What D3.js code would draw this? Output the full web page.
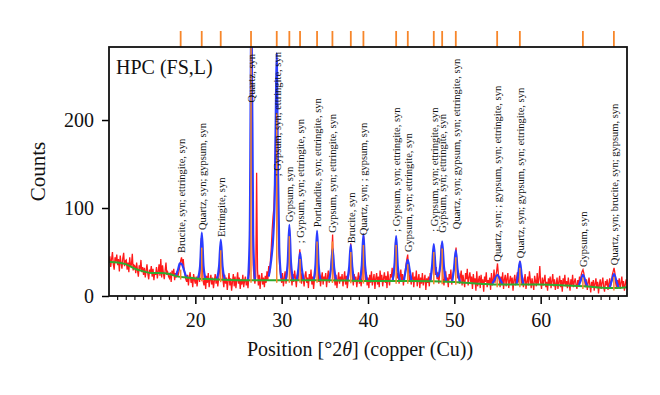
<!DOCTYPE html>
<html>
<head>
<meta charset="utf-8">
<script src="https://cdn.jsdelivr.net/npm/d3@7"></script>
<style>
  body { margin: 0; background: #fff; }
  text { font-family: "Liberation Serif", "DejaVu Serif", serif; fill: #111; }
</style>
</head>
<body>
<div id="chart"></div>
<script>
// observed pattern, start 10 deg, step 0.1 deg (one row per degree)
var obsStart = 10, obsStep = 0.1;
var observed = [
    38, 45, 33, 42, 50, 36, 30, 44, 39, 47,
    35, 42, 28, 46, 37, 31, 43, 49, 34, 40,
    41, 30, 38, 27, 44, 33, 36, 48, 29, 35,
    34, 26, 38, 29, 22, 35, 30, 41, 27, 33,
    24, 32, 21, 29, 36, 25, 19, 30, 27, 34,
    22, 31, 18, 27, 24, 33, 20, 28, 36, 23,
    42, 21, 35, 26, 19, 29, 38, 24, 27, 22,
    20, 27, 16, 29, 23, 31, 18, 26, 21, 28,
    23, 28, 34, 40, 44, 36, 42, 30, 24, 19,
    16, 24, 12, 22, 27, 15, 20, 10, 25, 18,
    14, 22, 11, 19, 25, 16, 40, 66, 38, 17,
    12, 20, 8, 23, 15, 26, 10, 18, 24, 13,
    21, 9, 17, 25, 14, 22, 11, 19, 30, 48,
    55, 35, 18, 10, 24, 14, 21, 7, 17, 26,
    12, 20, 6, 16, 25, 11, 22, 9, 18, 27,
    14, 21, 8, 19, 13, 24, 10, 17, 22, 12,
    18, 9, 22, 30, 150, 330, 140, 35, 20, 14,
    22, 140, 30, 12, 24, 8, 19, 26, 13, 21,
    10, 23, 15, 28, 18, 34, 26, 40, 55, 75,
    90, 100, 130, 180, 208, 150, 80, 45, 30, 22,
    15, 26, 11, 20, 28, 14, 22, 35, 50, 75,
    45, 22, 12, 25, 16, 29, 20, 10, 24, 18,
    38, 53, 30, 14, 26, 19, 11, 23, 28, 15,
    21, 9, 25, 17, 30, 13, 22, 8, 19, 26,
    45, 70, 40, 16, 24, 11, 20, 27, 13, 22,
    18, 26, 10, 21, 29, 15, 23, 32, 45, 70,
    35, 20, 12, 24, 9, 19, 27, 14, 22, 17,
    25, 11, 20, 28, 13, 23, 9, 18, 26, 34,
    60, 42, 21, 12, 25, 16, 22, 10, 19, 27,
    14, 23, 11, 20, 45, 68, 35, 18, 27, 12,
    21, 9, 24, 15, 28, 12, 19, 25, 8, 20,
    26, 13, 22, 10, 29, 17, 24, 11, 20, 27,
    15, 23, 9, 28, 18, 12, 25, 21, 32, 19,
    24, 40, 62, 38, 20, 26, 14, 22, 30, 17,
    25, 12, 21, 28, 35, 42, 47, 30, 18, 24,
    13, 20, 27, 10, 22, 16, 29, 11, 19, 25,
    9, 21, 14, 26, 12, 18, 24, 7, 20, 15,
    22, 11, 26, 18, 30, 35, 52, 40, 24, 33,
    19, 27, 14, 25, 38, 58, 42, 20, 12, 23,
    28, 16, 21, 10, 25, 19, 30, 13, 22, 27,
    32, 45, 55, 36, 20, 26, 14, 22, 29, 12,
    24, 17, 10, 26, 19, 31, 12, 21, 27, 16,
    22, 8, 25, 14, 20, 6, 28, 11, 18, 23,
    9, 24, 13, 19, 5, 22, 16, 27, 10, 18,
    14, 21, 7, 26, 12, 18, 30, 15, 23, 28,
    37, 25, 18, 10, 22, 14, 27, 8, 19, 24,
    11, 20, 26, 9, 17, 23, 13, 21, 6, 18,
    24, 12, 19, 27, 15, 32, 40, 26, 14, 21,
    10, 18, 25, 8, 16, 22, 12, 28, 19, 9,
    20, 14, 7, 23, 17, 11, 26, 13, 19, 34,
    15, 8, 21, 12, 18, 24, 10, 16, 6, 20,
    13, 22, 9, 17, 25, 11, 19, 7, 14, 21,
    8, 16, 23, 10, 18, 5, 20, 13, 24, 11,
    17, 9, 21, 14, 6, 19, 12, 24, 10, 16,
    20, 13, 8, 18, 11, 22, 15, 24, 28, 30,
    26, 17, 10, 19, 7, 15, 21, 12, 4, 16,
    11, 18, 6, 14, 20, 9, 16, 3, 13, 19,
    8, 15, 21, 10, 5, 17, 12, 19, 7, 14,
    20, 11, 16, 24, 28, 32, 26, 14, 9, 18,
    12, 20, 8, 15, 22, 10, 17, 6, 13, 19,
    14
];

// fitted background [2theta, counts]
var background = [
    [10, 39], [11, 38], [12, 36], [13, 31], [14, 28], [15, 26], [16, 26], [17, 25],
    [18, 22], [19, 21], [20, 20], [22, 19], [25, 18], [30, 18], [35, 18], [40, 17],
    [45, 17], [50, 16], [53, 14], [55, 13], [60, 13], [63, 12], [65, 11], [68, 9], [70, 10]
];

// calculated profile around each reflection
var calcPeaks = [
    [[17.7, 22], [18.0, 30], [18.2, 37], [18.45, 36], [18.7, 29], [18.9, 23], [19.1, 21]],
    [[20.3, 20], [20.55, 34], [20.75, 72], [20.95, 34], [21.2, 19]],
    [[22.5, 19], [22.75, 34], [22.95, 64], [23.15, 34], [23.4, 19]],
    [[26.1, 18], [26.3, 70], [26.5, 330], [26.7, 70], [26.9, 18]],
    [[28.5, 22], [28.8, 42], [29.05, 72], [29.2, 115], [29.32, 205], [29.42, 276], [29.56, 150], [29.72, 55], [29.95, 20]],
    [[30.45, 18], [30.7, 38], [30.89, 81], [31.08, 38], [31.35, 18]],
    [[31.75, 18], [31.95, 32], [32.13, 49], [32.32, 32], [32.55, 18]],
    [[33.7, 18], [33.92, 36], [34.1, 74], [34.28, 36], [34.5, 18]],
    [[35.5, 18], [35.72, 32], [35.9, 54], [36.08, 32], [36.3, 18]],
    [[37.6, 18], [37.82, 33], [38.0, 58], [38.18, 33], [38.4, 17]],
    [[39.05, 17], [39.28, 35], [39.47, 70], [39.66, 35], [39.9, 17]],
    [[42.85, 17], [43.07, 35], [43.26, 68], [43.45, 34], [43.7, 18]],
    [[44.15, 17], [44.38, 30], [44.6, 41], [44.82, 30], [45.05, 17]],
    [[47.2, 17], [47.42, 34], [47.62, 59], [47.82, 33], [48.05, 22], [48.38, 35], [48.59, 62], [48.8, 33], [49.05, 17]],
    [[49.75, 16], [49.97, 32], [50.17, 52], [50.38, 30], [50.65, 16]],
    [[54.4, 14], [54.75, 20], [55.0, 24], [55.25, 20], [55.6, 13]],
    [[57.2, 13], [57.4, 25], [57.6, 39], [57.8, 24], [58.0, 13]],
    [[64.4, 11], [64.65, 18], [64.9, 24], [65.15, 18], [65.4, 11]],
    [[68.0, 10], [68.25, 18], [68.5, 25], [68.75, 18], [69.0, 10]]
];

// reference reflection positions, stick tops (counts), label anchors (counts)
var peakPos = [18.3, 20.74, 22.94, 26.45, 29.43, 30.89, 32.13, 34.1, 35.88, 38.01,
    39.47, 43.26, 44.61, 47.62, 48.59, 50.17, 54.96, 57.59, 64.89, 68.48];
var stickTop = [30, 55, 52, 300, 208, 68, 42, 62, 62, 50,
    58, 58, 36, 50, 54, 44, 22, 32, 21, 22];
var peakLabels = [
    "Brucite, syn; ettringite, syn",
    "Quartz, syn; gypsum, syn",
    "Ettringite, syn",
    "Quartz, syn",
    "; Gypsum, syn; ettringite, syn",
    "Gypsum, syn",
    "; Gypsum, syn; ettringite, syn",
    "Portlandite, syn; ettringite, syn",
    "Gypsum, syn; ettringite, syn",
    "Brucite, syn",
    "Quartz, syn; ; gypsum, syn",
    "; Gypsum, syn; ettringite, syn",
    "Gypsum, syn; ettringite, syn",
    "; Gypsum, syn; ettringite, syn",
    "Gypsum, syn; ettringite, syn",
    "Quartz, syn; gypsum, syn; ettringite, syn",
    "Quartz, syn; ; gypsum, syn; ettringite, syn",
    "Quartz, syn; gypsum, syn; ettringite, syn",
    "Gypsum, syn",
    "Quartz, syn; brucite, syn; gypsum, syn"
];
var labelBase = [49, 75, 67, 220, 136, 84, 60, 78, 72, 60,
    69, 73, 50, 73, 72, 76, 39, 43, 33, 35];

var xMajor = [20, 30, 40, 50, 60];
var yTicks = [0, 100, 200];

function drawPattern() {
    var margin = {top: 47, right: 33, bottom: 99, left: 109},
        width = 660 - margin.left - margin.right,
        height = 395 - margin.top - margin.bottom;

    var x = d3.scaleLinear().domain([10, 70]).range([0, width]);
    var y = d3.scaleLinear().domain([0, 283]).range([height, 0]);

    var svg = d3.select("#chart").append("svg")
        .attr("width", 660)
        .attr("height", 395)
        .append("g")
        .attr("transform", "translate(" + margin.left + "," + margin.top + ")");

    svg.append("clipPath").attr("id", "plotClip")
        .append("rect").attr("width", width).attr("height", height);

    var plot = svg.append("g").attr("clip-path", "url(#plotClip)");

    var line = d3.line()
        .x(function (d) { return x(d[0]); })
        .y(function (d) { return y(d[1]); });

    var obsPoints = observed.map(function (v, i) {
        return [obsStart + i * obsStep, v];
    });

    plot.append("path")
        .datum(obsPoints)
        .attr("fill", "none")
        .attr("stroke", "#ff1a1a")
        .attr("stroke-width", 1.3)
        .attr("d", line);

    plot.selectAll(".calc")
        .data(calcPeaks)
        .enter().append("path")
        .attr("class", "calc")
        .attr("fill", "none")
        .attr("stroke", "#2b3cff")
        .attr("stroke-width", 2.2)
        .attr("d", line.curve(d3.curveMonotoneX));

    plot.append("path")
        .datum(background)
        .attr("fill", "none")
        .attr("stroke", "#2eab2e")
        .attr("stroke-width", 2)
        .attr("d", line.curve(d3.curveMonotoneX));

    // sticks of reference reflections
    var bgAt = d3.scaleLinear()
        .domain(background.map(function (d) { return d[0]; }))
        .range(background.map(function (d) { return d[1]; }));

    plot.selectAll(".stick")
        .data(peakPos)
        .enter().append("line")
        .attr("class", "stick")
        .attr("x1", function (d) { return x(d); })
        .attr("x2", function (d) { return x(d); })
        .attr("y1", function (d) { return y(bgAt(d) - 3); })
        .attr("y2", function (d, i) { return y(stickTop[i]); })
        .attr("stroke", "#f7862a")
        .attr("stroke-width", 1.5);

    // markers above the frame
    svg.selectAll(".topTick")
        .data(peakPos)
        .enter().append("line")
        .attr("class", "topTick")
        .attr("x1", function (d) { return x(d); })
        .attr("x2", function (d) { return x(d); })
        .attr("y1", -16)
        .attr("y2", 0)
        .attr("stroke", "#f7862a")
        .attr("stroke-width", 1.8);

    // peak labels
    svg.selectAll(".plabel")
        .data(peakLabels)
        .enter().append("text")
        .attr("class", "plabel")
        .attr("transform", function (d, i) {
            return "translate(" + (x(peakPos[i]) + 4) + "," + y(labelBase[i]) + ") rotate(-90)";
        })
        .style("font-size", "10.5px")
        .text(function (d) { return d; });

    // axes
    var xAxis = svg.append("g")
        .attr("transform", "translate(0," + height + ")")
        .call(d3.axisBottom(x).tickValues(xMajor).tickSize(8).tickPadding(9).tickFormat(d3.format("d")));
    xAxis.select(".domain").remove();
    xAxis.selectAll("text").style("font-size", "20px");
    xAxis.selectAll("line").attr("stroke-width", 1.5);

    var minor = d3.range(11, 70).filter(function (d) { return xMajor.indexOf(d) < 0; });
    svg.append("g")
        .attr("transform", "translate(0," + height + ")")
        .selectAll("line")
        .data(minor)
        .enter().append("line")
        .attr("x1", function (d) { return x(d); })
        .attr("x2", function (d) { return x(d); })
        .attr("y1", 0)
        .attr("y2", 4)
        .attr("stroke", "#111")
        .attr("stroke-width", 1.2);

    var yAxis = svg.append("g")
        .call(d3.axisLeft(y).tickValues(yTicks).tickSize(7).tickPadding(8));
    yAxis.select(".domain").remove();
    yAxis.selectAll("text").style("font-size", "20px");
    yAxis.selectAll("line").attr("stroke-width", 1.5);

    svg.append("rect")
        .attr("width", width)
        .attr("height", height)
        .attr("fill", "none")
        .attr("stroke", "#111")
        .attr("stroke-width", 1.8);

    svg.append("text")
        .attr("x", 7)
        .attr("y", 27)
        .style("font-size", "20px")
        .text("HPC (FS,L)");

    var xTitle = svg.append("text")
        .attr("x", 251)
        .attr("y", 309)
        .attr("text-anchor", "middle")
        .style("font-size", "20px");
    xTitle.append("tspan").text("Position [\u00b02");
    xTitle.append("tspan").style("font-style", "italic").text("\u03b8");
    xTitle.append("tspan").text("] (copper (Cu))");

    svg.append("text")
        .attr("transform", "translate(-64," + (height / 2) + ") rotate(-90)")
        .attr("text-anchor", "middle")
        .style("font-size", "21px")
        .text("Counts");
}

drawPattern();
</script>
</body>
</html>
